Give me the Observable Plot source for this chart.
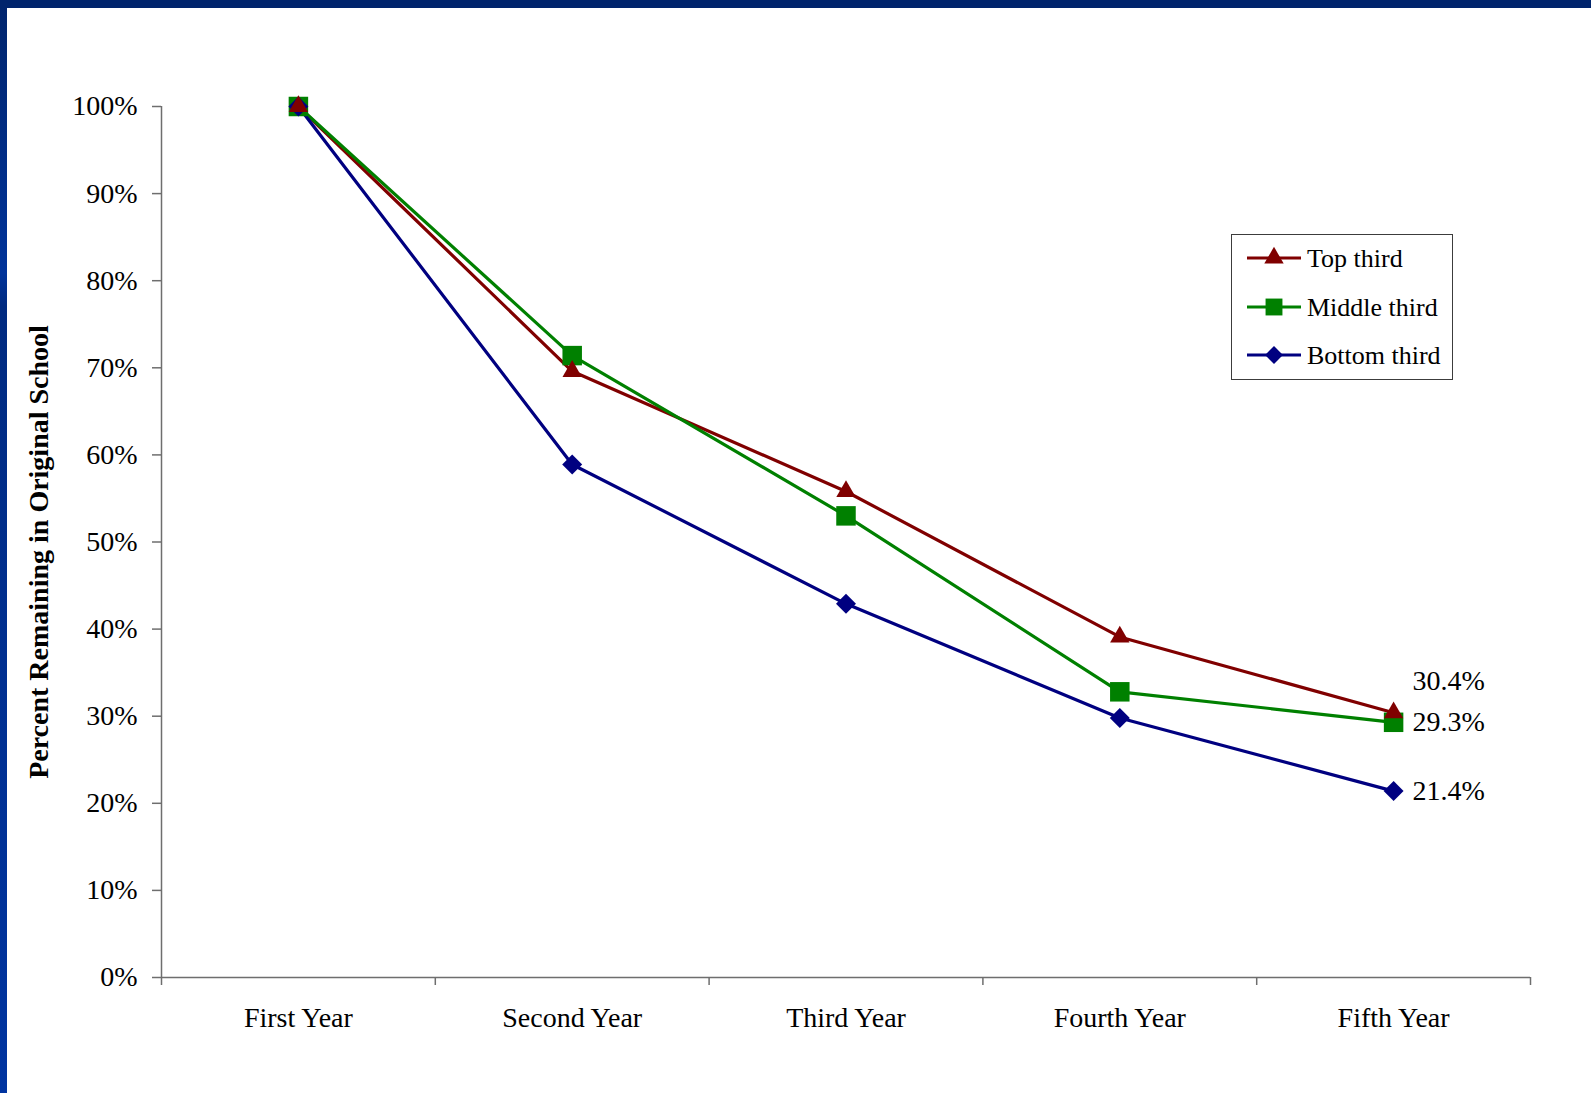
<!DOCTYPE html>
<html>
<head>
<meta charset="utf-8">
<script src="https://cdn.jsdelivr.net/npm/d3@7"></script>
<script src="https://cdn.jsdelivr.net/npm/@observablehq/plot@0.6"></script>
<style>
  html, body { margin: 0; padding: 0; background: #fff; }
  #page {
    position: relative; width: 1591px; height: 1093px; overflow: hidden;
    font-family: "Liberation Serif", "Times New Roman", serif;
  }
  #chart { position: absolute; left: 0; top: 0; }
  #topbar {
    position: absolute; left: 0; top: 0; width: 1591px; height: 8px;
    background: #00246c;
  }
  #leftbar {
    position: absolute; left: 0; top: 0; width: 7px; height: 1093px;
    background: linear-gradient(#00246c 0%, #00339a 25%, #002a80 28%, #002f90 60%, #0034a0 100%);
  }
  #legend { position: absolute; left: 1231px; top: 234px; }
</style>
</head>
<body>
<div id="page">
  <div id="chart"></div>
  <div id="legend"></div>
  <div id="leftbar"></div>
  <div id="topbar"></div>
</div>
<script>
// Share of teachers still in their original school, by year and by third
const years = ["First Year", "Second Year", "Third Year", "Fourth Year", "Fifth Year"];
const seriesNames = ["Top third", "Middle third", "Bottom third"];
const topThird    = [1.000, 0.696, 0.558, 0.391, 0.304];
const middleThird = [1.000, 0.714, 0.530, 0.328, 0.293];
const bottomThird = [1.000, 0.589, 0.429, 0.298, 0.214];
const yTicks = [0, 0.1, 0.2, 0.3, 0.4, 0.5, 0.6, 0.7, 0.8, 0.9, 1.0];
const yTitle = "Percent Remaining in Original School";

// Styling per series
const colors  = ["#800000", "#008000", "#000080"];
const symbols = ["triangle", "square", "diamond2"];
const radii   = [7.2, 11, 9];

const values = [topThird, middleThird, bottomThird];
const rows = [];
seriesNames.forEach((s, k) => {
  values[k].forEach((v, i) => rows.push({series: s, k, year: years[i], x: i + 0.5, value: v}));
});
const lastRows = rows.filter(d => d.year === years[years.length - 1]);

const font = '"Liberation Serif", "Times New Roman", serif';
const axisColor = "#6e6e6e";
const pct = d => (d.value * 100).toFixed(1) + "%";

const chart = Plot.plot({
  width: 1591,
  height: 1093,
  marginLeft: 161,
  marginRight: 61,
  marginTop: 106,
  marginBottom: 116,
  style: {fontFamily: font, fontSize: "28px", color: "#000", background: "transparent"},
  x: {type: "linear", domain: [0, years.length], axis: null},
  y: {domain: [0, 1], axis: null},
  color: {domain: seriesNames, range: colors},
  symbol: {domain: seriesNames, range: symbols},
  r: {type: "identity"},
  marks: [
    // Value axis
    Plot.axisY({
      ticks: yTicks, tickSize: 9, tickPadding: 15,
      tickFormat: d => Math.round(d * 100) + "%",
      stroke: axisColor, strokeWidth: 1.5, label: null, fontSize: 28, fill: "#000"
    }),
    Plot.ruleX([0], {stroke: axisColor, strokeWidth: 1.5}),
    // Category axis: tick marks between categories, names centred in each slot
    Plot.ruleY([0], {stroke: axisColor, strokeWidth: 1.5}),
    Plot.axisX({
      ticks: d3.range(0, years.length + 1), tickSize: 8, tickFormat: () => "",
      stroke: axisColor, strokeWidth: 1.5, label: null
    }),
    Plot.axisX({
      ticks: years.map((_, i) => i + 0.5), tickSize: 0, tickPadding: 30,
      tickFormat: v => years[Math.floor(v)], label: null, fontSize: 28, fill: "#000"
    }),
    // Axis title
    Plot.text([yTitle], {
      frameAnchor: "left", text: d => d, rotate: -90, textAnchor: "middle",
      dx: -122, dy: 10, fontWeight: "bold", fontSize: 28, fill: "#000"
    }),
    // Series
    Plot.line(rows, {x: "x", y: "value", z: "series", stroke: "series", strokeWidth: 3.2}),
    Plot.dot(rows, {x: "x", y: "value", symbol: "series", fill: "series", r: d => radii[d.k]}),
    // Final-year values: the top series' label sits above its point
    Plot.text(lastRows.filter(d => d.k === 0), {
      x: "x", y: "value", text: pct, textAnchor: "start", dx: 19, dy: -32, fontSize: 28, fill: "#000"
    }),
    Plot.text(lastRows.filter(d => d.k !== 0), {
      x: "x", y: "value", text: pct, textAnchor: "start", dx: 19, fontSize: 28, fill: "#000"
    })
  ]
});
document.getElementById("chart").appendChild(chart);

// Legend box
const lw = 222, lh = 146;
const legend = d3.select("#legend").append("svg").attr("width", lw).attr("height", lh);
legend.append("rect").attr("x", 0.5).attr("y", 0.5).attr("width", lw - 1).attr("height", lh - 1)
  .attr("fill", "#fff").attr("stroke", "#3c3c3c").attr("stroke-width", 1);
const rowY = [24, 73, 121];
const d3Symbols = [d3.symbolTriangle, d3.symbolSquare, d3.symbolDiamond2];
const legendScale = [1, 0.75, 0.8];
seriesNames.forEach((s, k) => {
  const g = legend.append("g").attr("transform", `translate(0,${rowY[k]})`);
  g.append("line").attr("x1", 16).attr("x2", 70).attr("y1", 0).attr("y2", 0)
    .attr("stroke", colors[k]).attr("stroke-width", 3.2);
  g.append("path").attr("transform", "translate(43,0)")
    .attr("d", d3.symbol(d3Symbols[k], Math.PI * radii[k] * radii[k] * legendScale[k])())
    .attr("fill", colors[k]);
  g.append("text").attr("x", 76).attr("y", 0).attr("dy", "0.34em")
    .attr("font-family", font).attr("font-size", 26).attr("fill", "#000").text(s);
});
</script>
</body>
</html>
